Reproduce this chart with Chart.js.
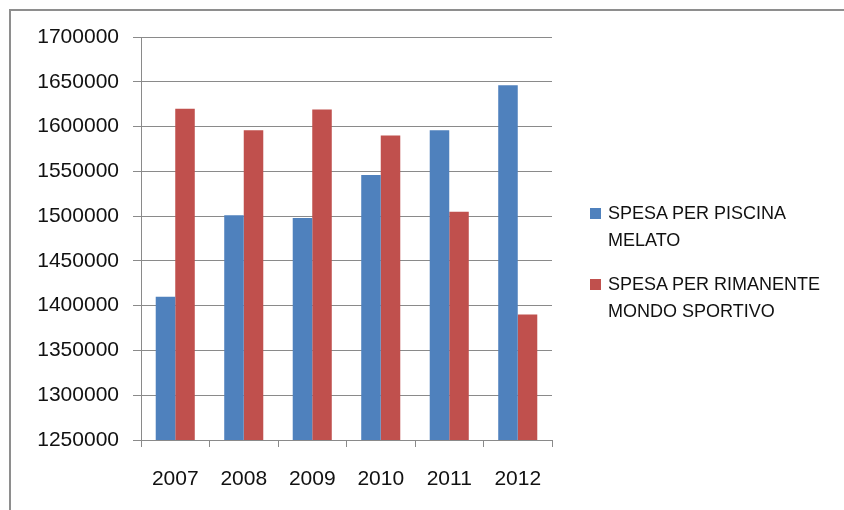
<!DOCTYPE html>
<html>
<head>
<meta charset="utf-8">
<script src="https://cdn.jsdelivr.net/npm/chart.js@4.4.1/dist/chart.umd.min.js"></script>
<style>
  html, body { margin: 0; padding: 0; background: #fff; }
  #wrap { position: relative; width: 844px; height: 510px; overflow: hidden; }
  #cornice { position: absolute; left: 9px; top: 9px; width: 900px; height: 600px;
    border-top: 2px solid #8e8e8e; border-left: 2px solid #8e8e8e; }
  canvas { position: absolute; left: 0; top: 0; }
  .leg { position: absolute; left: 590px; font-family: "Liberation Sans", Arial, sans-serif;
    font-size: 18px; line-height: 27px; color: #111; }
  .leg .box { position: absolute; left: 0; top: 8px; width: 11px; height: 11px; }
  .leg .txt { margin-left: 18px; white-space: nowrap; }
</style>
</head>
<body>
<div id="wrap">
  <div id="cornice"></div>
  <canvas id="grafico" width="844" height="510"></canvas>
  <div id="legenda"></div>
</div>
<script>
// Dati
const anni = ['2007', '2008', '2009', '2010', '2011', '2012'];
const spesaPiscina = [1410000, 1501000, 1498000, 1546000, 1596000, 1646000];
const spesaRimanente = [1620000, 1596000, 1619000, 1590000, 1505000, 1390000];
const nomiSerie = [
  ['SPESA PER PISCINA', 'MELATO'],
  ['SPESA PER RIMANENTE', 'MONDO SPORTIVO']
];
const coloriSerie = ['#4F81BD', '#C0504D'];
const asseMin = 1250000;
const asseMax = 1700000;
const passo = 50000;

const font = { family: '"Liberation Sans", Arial, sans-serif', size: 21 };
const grigio = '#8a8a8a';

function disegnaGrafico() {
  const ctx = document.getElementById('grafico').getContext('2d');
  new Chart(ctx, {
    type: 'bar',
    data: {
      labels: anni,
      datasets: [
        { label: nomiSerie[0].join(' '), data: spesaPiscina, backgroundColor: coloriSerie[0] },
        { label: nomiSerie[1].join(' '), data: spesaRimanente, backgroundColor: coloriSerie[1] }
      ]
    },
    options: {
      responsive: false,
      animation: false,
      layout: { padding: { left: 0, top: 37, right: 292, bottom: 0 } },
      datasets: { bar: { barPercentage: 1, categoryPercentage: 0.57 } },
      plugins: { legend: { display: false }, tooltip: { enabled: false } },
      scales: {
        x: {
          afterFit: (s) => { s.height = 70; },
          grid: { offset: true, drawOnChartArea: false, drawTicks: true, tickLength: 7, color: grigio },
          border: { color: grigio, width: 1 },
          ticks: { font: font, color: '#111', padding: 20 }
        },
        y: {
          min: asseMin,
          max: asseMax,
          afterFit: (s) => { s.width = 141; },
          grid: { color: grigio, tickLength: 8 },
          border: { color: grigio, width: 1 },
          ticks: { stepSize: passo, font: font, color: '#111', padding: 14,
            callback: (v) => String(v) }
        }
      }
    }
  });
}

function disegnaLegenda() {
  const legenda = document.getElementById('legenda');
  const posizioni = [200, 271];
  nomiSerie.forEach((righe, i) => {
    const el = document.createElement('div');
    el.className = 'leg';
    el.style.top = posizioni[i] + 'px';
    el.innerHTML = `<span class="box" style="background:${coloriSerie[i]}"></span>` +
      righe.map(r => `<div class="txt">${r}</div>`).join('');
    legenda.appendChild(el);
  });
}

disegnaGrafico();
disegnaLegenda();
</script>
</body>
</html>
